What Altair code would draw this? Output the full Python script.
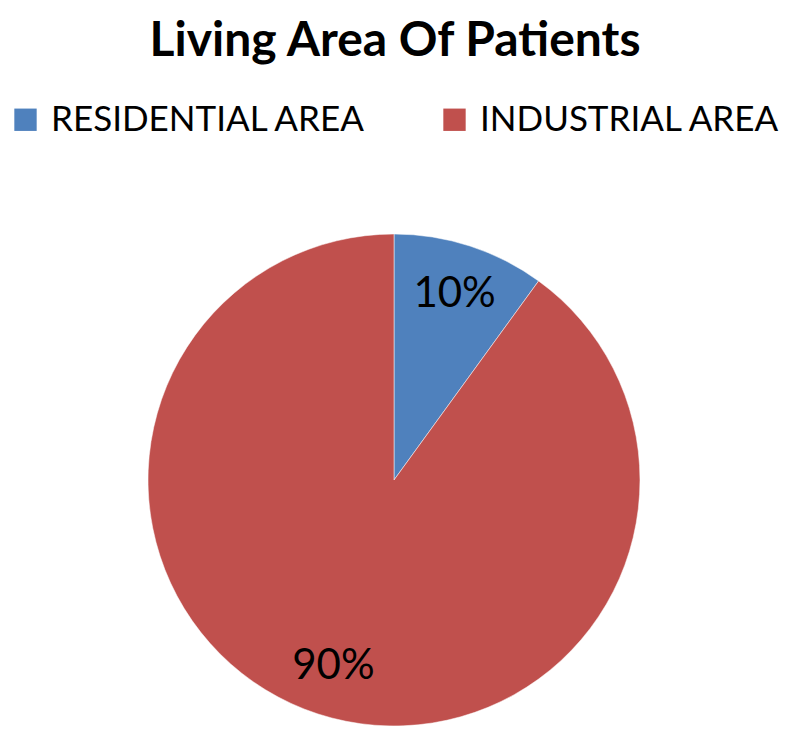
import altair as alt
import pandas as pd

categories = ["RESIDENTIAL AREA", "INDUSTRIAL AREA"]
values = [10, 90]
labels = ["10%", "90%"]
colors = ["#4F81BD", "#C0504D"]

df = pd.DataFrame({
    "area": categories,
    "value": values,
    "label": labels,
    "idx": list(range(len(categories))),
})

base = alt.Chart(df).encode(
    theta=alt.Theta("value:Q", stack=True),
    order=alt.Order("idx:Q"),
)

pie = base.mark_arc(outerRadius=246, stroke="white", strokeWidth=0.5).encode(
    x=alt.value(386),
    y=alt.value(392),
    color=alt.Color(
        "area:N",
        scale=alt.Scale(domain=categories, range=colors),
        legend=alt.Legend(
            title=None,
            orient="none",
            legendX=0,
            legendY=14,
            direction="horizontal",
            columns=2,
            columnPadding=70,
            symbolType="square",
            symbolSize=500,
            symbolStrokeWidth=0,
            labelFont="Lato",
            labelFontSize=35,
            labelColor="black",
            labelOffset=8,
            labelLimit=600,
        ),
    ),
)

text = base.mark_text(radius=196, font="Lato", fontSize=42, color="black").encode(
    x=alt.value(386),
    y=alt.value(392),
    text="label:N",
)

chart = (
    alt.layer(pie, text)
    .properties(
        width=784,
        height=640,
        autosize="none",
        padding={"top": 80, "left": 0, "right": 0, "bottom": 0},
        title=alt.TitleParams(
            "Living Area Of Patients",
            font="Lato",
            fontSize=48,
            fontWeight="bold",
            color="black",
            anchor="middle",
            offset=22,
            dx=-5,
        ),
    )
    .configure_view(stroke=None)
)

chart.save("out.html", embed_options={"renderer": "svg", "actions": False})
